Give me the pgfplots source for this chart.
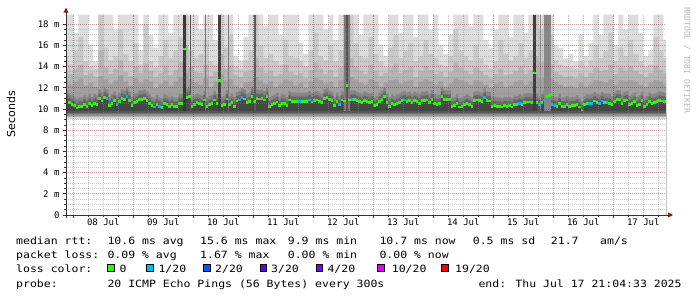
\documentclass[border=0pt]{standalone}
\usepackage{fontspec}
\usepackage{pgfplots}
\usepackage{pgfplotstable}
\pgfplotsset{compat=1.18}
\usetikzlibrary{arrows.meta}
\newfontfamily\monof{DejaVu Sans Mono}
\newfontfamily\lgmono[FakeStretch=1.15]{DejaVu Sans Mono}
\newfontfamily\dvsans{DejaVu Sans}
\newcommand{\axfont}{\fontsize{9bp}{10bp}\selectfont\monof}
\newcommand{\lgfont}{\fontsize{10bp}{11bp}\selectfont\lgmono}
\definecolor{lc0}{HTML}{26FF00}
\definecolor{lc1}{HTML}{00B8FF}
\definecolor{lc2}{HTML}{0059FF}
\definecolor{lc3}{HTML}{5E00FF}
\definecolor{lc4}{HTML}{7E00FF}
\definecolor{lc10}{HTML}{DD00FF}
\definecolor{lc19}{HTML}{FF0000}
\definecolor{sA}{HTML}{DDDDDD}
\definecolor{sB}{HTML}{C9C9C9}
\definecolor{sB2}{HTML}{B5B5B5}
\definecolor{sC}{HTML}{A0A0A0}
\definecolor{sD}{HTML}{858585}
\definecolor{sD2}{HTML}{666666}
\definecolor{sE}{HTML}{474747}
\definecolor{mgrid}{HTML}{821E1E}
\definecolor{ggrid}{HTML}{8C8C8C}
\definecolor{arrowred}{HTML}{8B1A1A}
\definecolor{axiscol}{HTML}{333333}

% smoke bands: column start hour, tops of the grey bands (light to darker)
\pgfplotstableread[row sep=\\]{
h T T2 T25 T3\\
20 18.9 15.0 13.6 12.7\\ 22 18.9 14.2 13.3 12.3\\ 24 17.2 15.5 13.8 12.6\\ 26 18.9 16.8 14.2 12.9\\
28 18.9 14.5 13.2 12.2\\ 30 16.0 14.0 13.4 12.5\\ 32 14.5 13.8 13.0 12.1\\ 34 18.9 18.9 15.5 13.1\\
36 18.9 15.8 13.9 12.8\\ 38 18.9 14.6 13.3 12.4\\ 40 17.5 15.0 13.8 12.7\\ 42 18.9 17.5 14.6 13.2\\
44 18.9 15.2 13.5 12.6\\ 46 18.9 14.5 13.1 12.2\\ 48 18.9 16.2 14.0 12.9\\ 50 15.5 14.2 13.4 12.5\\
52 18.9 18.0 14.3 12.8\\ 54 17.0 14.5 13.6 12.6\\ 56 15.8 13.9 13.0 12.0\\ 58 18.9 15.0 13.4 12.4\\
60 18.9 16.5 14.1 12.7\\ 62 17.2 14.8 13.2 12.2\\ 64 18.9 15.5 13.7 12.6\\ 66 18.9 16.8 14.4 13.0\\
68 18.9 18.9 16.0 13.4\\ 70 18.9 15.5 14.0 12.8\\ 72 18.9 14.8 13.5 12.5\\ 74 17.5 15.2 13.4 12.3\\
76 18.9 16.5 14.2 12.9\\ 78 18.9 14.5 13.1 12.1\\ 80 16.5 14.2 13.5 12.6\\ 82 18.9 18.9 15.2 13.3\\
84 18.9 15.8 13.8 12.7\\ 86 18.9 17.0 14.1 12.8\\ 88 15.0 14.0 13.2 12.2\\ 90 14.6 13.8 13.0 12.0\\
92 16.8 14.6 13.5 12.5\\ 94 18.9 15.5 13.7 12.6\\ 96 18.9 18.9 14.8 13.0\\ 98 18.9 16.0 13.9 12.7\\
100 17.8 14.8 13.4 12.4\\ 102 18.9 15.2 13.6 12.6\\ 104 18.9 14.5 13.1 12.1\\ 106 17.0 14.2 13.3 12.4\\
108 18.9 16.5 14.2 12.8\\ 110 18.9 15.0 13.5 12.6\\ 112 18.9 14.8 13.2 12.2\\ 114 16.2 14.5 13.4 12.5\\
116 15.2 14.0 12.9 12.0\\ 118 18.9 15.5 13.7 12.6\\ 120 18.9 17.2 14.4 12.9\\ 122 18.9 15.0 13.8 12.7\\
124 17.5 14.6 13.3 12.4\\ 126 18.9 16.0 13.7 12.6\\ 128 16.5 14.5 13.0 12.1\\ 130 18.9 15.5 13.9 12.7\\
132 18.9 18.9 15.5 13.2\\ 134 18.9 18.9 14.8 13.0\\ 136 18.9 16.2 14.0 12.8\\ 138 17.0 15.0 13.6 12.5\\
140 18.9 14.8 13.3 12.3\\ 142 18.9 16.8 14.2 12.8\\ 144 18.9 15.2 13.6 12.6\\ 146 16.0 14.5 13.1 12.1\\
148 15.0 14.0 13.4 12.5\\ 150 18.9 15.8 13.9 12.7\\ 152 18.9 17.0 14.3 12.8\\ 154 17.2 14.8 13.4 12.4\\
156 18.9 15.5 13.7 12.6\\ 158 18.9 16.2 14.0 12.7\\ 160 16.8 14.5 13.0 12.1\\ 162 18.9 15.0 13.6 12.6\\
164 18.9 16.5 14.1 12.8\\ 166 17.5 15.2 13.7 12.6\\ 168 18.9 14.8 13.3 12.3\\ 170 16.0 14.2 13.5 12.6\\
172 15.2 14.0 13.0 12.1\\ 174 17.0 15.0 13.5 12.4\\ 176 18.9 17.5 14.4 12.9\\ 178 18.9 15.5 13.9 12.7\\
180 18.9 15.0 13.6 12.6\\ 182 17.8 14.6 13.3 12.3\\ 184 18.9 16.0 13.9 12.7\\ 186 18.9 14.8 13.6 12.6\\
188 16.5 14.2 13.2 12.3\\ 190 15.8 13.8 12.9 12.0\\ 192 17.5 14.5 13.3 12.4\\ 194 18.9 16.5 13.8 12.6\\
196 18.9 15.2 13.2 12.1\\ 198 16.8 14.6 13.3 12.3\\ 200 18.9 15.0 13.6 12.6\\ 202 18.9 16.2 14.0 12.7\\
204 17.2 14.8 13.3 12.3\\ 206 18.9 15.5 13.7 12.6\\ 208 18.9 18.9 15.0 13.3\\ 210 18.9 17.5 14.4 12.9\\
212 18.9 18.9 14.6 13.0\\ 214 18.9 17.0 14.2 12.8\\ 216 16.0 14.6 13.5 12.6\\ 218 15.8 14.2 13.2 12.3\\
220 14.8 14.0 13.0 12.1\\ 222 15.2 13.9 13.1 12.2\\ 224 14.5 13.8 12.9 12.0\\ 226 17.0 14.5 13.4 12.5\\
228 15.0 14.0 13.0 12.1\\ 230 16.2 14.6 13.4 12.4\\ 232 18.9 16.0 13.9 12.7\\ 234 17.0 14.8 13.6 12.6\\
236 18.9 15.5 13.7 12.5\\ 238 18.9 17.2 14.2 12.8\\ 240 16.0 14.5 13.3 12.3\\ 242 18.9 15.8 13.9 12.7\\
244 17.5 15.0 13.6 12.6\\ 246 18.9 16.5 14.0 12.7\\ 248 18.9 15.2 13.6 12.6\\ 250 17.2 14.5 13.3 12.3\\
252 15.0 14.0 13.0 12.1\\ 254 15.5 14.2 13.4 12.5\\ 256 18.9 16.8 14.1 12.7\\ 258 18.9 15.5 13.7 12.6\\
260 16.5 14.8 13.4 12.4\\ 262 16.5 14.8 13.4 12.4\\
}\smoke

% median rtt (ms), hourly, x = start of the hour since 07 Jul 00:00
\pgfplotstableread[row sep=\\]{
x y\\
20 10.85\\ 21 10.85\\ 22 10.6\\ 23 10.45\\ 24 10.3\\ 25 10.1\\ 26 10.25\\ 27 10.25\\
28 10.45\\ 29 10.25\\ 30 10.55\\ 31 10.3\\ 32 10.55\\ 33 10.45\\ 34 11.0\\ 35 10.75\\
36 11.1\\ 37 11.0\\ 38 10.3\\ 39 10.55\\ 40 10.8\\ 41 10.45\\ 42 10.7\\ 43 11.0\\
44 10.9\\ 45 11.15\\ 46 10.8\\ 47 10.3\\ 48 10.6\\ 49 10.7\\ 50 10.9\\ 51 10.9\\
52 11.0\\ 53 10.8\\ 54 10.55\\ 55 10.3\\ 56 10.2\\ 57 10.45\\ 58 10.25\\ 59 10.15\\
60 10.55\\ 61 10.45\\ 62 10.25\\ 63 10.4\\ 64 10.25\\ 65 10.25\\ 66 10.55\\ 67 10.55\\
68 15.65\\ 69 11.1\\ 70 11.2\\ 71 10.25\\ 72 10.45\\ 73 10.6\\ 74 10.5\\ 75 10.4\\
76 10.85\\ 77 10.25\\ 78 10.4\\ 79 10.5\\ 80 10.85\\ 81 10.55\\ 82 12.7\\ 83 10.3\\
84 10.45\\ 85 10.95\\ 86 10.4\\ 87 10.6\\ 88 10.25\\ 89 10.75\\ 90 10.85\\ 91 11.1\\
92 10.95\\ 93 10.6\\ 94 10.7\\ 95 11.2\\ 96 10.7\\ 97 11.0\\ 98 10.95\\ 99 11.0\\
100 10.85\\ 101 11.15\\ 102 10.25\\ 103 10.4\\ 104 10.5\\ 105 10.65\\ 106 10.3\\ 107 10.55\\
108 10.5\\ 109 10.3\\ 110 10.85\\ 111 10.7\\ 112 10.7\\ 113 10.7\\ 114 10.7\\ 115 10.7\\
116 10.7\\ 117 10.7\\ 118 10.85\\ 119 10.65\\ 120 10.8\\ 121 10.85\\ 122 10.7\\ 123 10.6\\
124 11.0\\ 125 11.1\\ 126 10.9\\ 127 10.8\\ 128 10.3\\ 129 10.7\\ 130 10.4\\ 131 10.85\\
132 10.75\\ 133 12.25\\ 134 10.85\\ 135 10.9\\ 136 10.9\\ 137 10.8\\ 138 10.7\\ 139 10.6\\
140 10.8\\ 141 10.7\\ 142 10.6\\ 143 10.7\\ 144 10.3\\ 145 10.4\\ 146 10.7\\ 147 10.9\\
148 11.15\\ 149 10.6\\ 150 10.25\\ 151 10.5\\ 152 10.4\\ 153 10.5\\ 154 10.6\\ 155 10.8\\
156 10.85\\ 157 10.7\\ 158 10.8\\ 159 10.6\\ 160 10.8\\ 161 10.7\\ 162 10.55\\ 163 10.8\\
164 10.8\\ 165 10.85\\ 166 10.6\\ 167 10.9\\ 168 10.55\\ 169 10.45\\ 170 10.5\\ 171 11.2\\
172 10.9\\ 173 10.9\\ 174 10.9\\ 175 10.25\\ 176 10.3\\ 177 10.55\\ 178 10.2\\ 179 10.25\\
180 10.4\\ 181 10.55\\ 182 10.4\\ 183 10.25\\ 184 10.8\\ 185 10.85\\ 186 10.8\\ 187 10.7\\
188 11.1\\ 189 10.8\\ 190 10.75\\ 191 10.25\\ 192 10.3\\ 193 10.25\\ 194 10.25\\ 195 10.2\\
196 10.3\\ 197 10.25\\ 198 10.3\\ 199 10.2\\ 200 10.45\\ 201 10.4\\ 202 10.55\\ 203 10.45\\
204 10.6\\ 205 10.65\\ 206 10.65\\ 207 10.6\\ 208 13.4\\ 209 10.6\\ 210 10.4\\ 211 10.6\\
212 10.85\\ 213 11.2\\ 214 11.3\\ 215 10.4\\ 216 10.3\\ 217 10.25\\ 218 10.55\\ 219 10.25\\
220 10.25\\ 221 10.4\\ 222 10.25\\ 223 10.3\\ 224 10.3\\ 225 10.45\\ 226 10.2\\ 227 9.9\\
228 10.4\\ 229 10.55\\ 230 10.5\\ 231 10.55\\ 232 10.75\\ 233 10.6\\ 234 10.5\\ 235 10.75\\
236 10.6\\ 237 10.6\\ 238 10.55\\ 239 10.4\\ 240 10.7\\ 241 10.9\\ 242 10.9\\ 243 10.5\\
244 10.8\\ 245 10.85\\ 246 10.4\\ 247 10.5\\ 248 10.7\\ 249 10.3\\ 250 10.45\\ 251 10.8\\
252 10.25\\ 253 10.4\\ 254 10.7\\ 255 10.55\\ 256 10.6\\ 257 10.7\\ 258 10.8\\ 259 10.75\\
260 10.7\\ 261 10.7\\
}\med

% hours with 1/20 loss
\pgfplotstableread[row sep=\\]{
x y\\
37 11.0\\ 41 10.45\\ 45 11.15\\ 56 10.2\\ 58 10.25\\ 90 10.85\\ 91 11.1\\ 114 10.7\\
118 10.85\\ 130 10.4\\ 135 10.9\\ 156 10.85\\ 188 11.1\\ 202 10.55\\ 210 10.4\\ 212 10.85\\
215 10.4\\ 216 10.3\\ 230 10.5\\ 231 10.55\\ 234 10.5\\ 235 10.75\\ 237 10.6\\
}\loss

\begin{document}
\begin{tikzpicture}
\fill[white] (-66bp,-82bp) rectangle (631bp,215bp);
\begin{axis}[
  at={(0,0)}, anchor=south west,
  scale only axis, width=600bp, height=200.3bp,
  xmin=21.07, xmax=261.07, ymin=0, ymax=18.9,
  set layers=axis on top,
  axis x line=bottom, axis y line=left,
  axis line style={draw=axiscol, line width=0.9bp},
  x axis line style={-{Triangle[length=5bp,width=5bp,color=arrowred]}, shorten >=-7bp, shorten <=-3bp},
  y axis line style={-{Triangle[length=5bp,width=5bp,color=arrowred]}, shorten >=-7bp, shorten <=-3bp},
  xtick={24,48,...,240}, xticklabels={,,,,,,,,,},
  minor xtick={30,36,42,54,60,66,78,84,90,102,108,114,126,132,138,150,156,162,174,180,186,198,204,210,222,228,234,246,252,258},
  extra x ticks={36,60,84,108,132,156,180,204,228,252},
  extra x tick labels={08 Jul,09 Jul,10 Jul,11 Jul,12 Jul,13 Jul,14 Jul,15 Jul,16 Jul,17 Jul},
  extra x tick style={major tick length=0pt, grid=none},
  ytick={0,2,...,18},
  yticklabels={0,2 m,4 m,6 m,8 m,10 m,12 m,14 m,16 m,18 m},
  minor y tick num=3,
  grid=both,
  major grid style={draw=mgrid, draw opacity=0.45, line width=1bp, dash pattern=on 1bp off 1bp},
  minor grid style={draw=ggrid, draw opacity=0.45, line width=1bp, dash pattern=on 1bp off 1bp},
  tick align=outside, major tick length=3bp, minor tick length=2bp,
  tick style={draw=axiscol, line width=0.8bp},
  tick label style={font=\axfont, text=black},
]
% smoke
\addplot[const plot, fill=sA, draw=none] table[x=h,y=T]{\smoke} \closedcycle;
\addplot[const plot, fill=sB, draw=none] table[x=h,y=T2]{\smoke} \closedcycle;
\addplot[const plot, fill=sB2, draw=none] table[x=h,y=T25]{\smoke} \closedcycle;
\addplot[const plot, fill=sC, draw=none] table[x=h,y=T3]{\smoke} \closedcycle;
\addplot[const plot, fill=sD, draw=none, yshift=9bp] table[x=x,y=y]{\med} \closedcycle;
\addplot[const plot, fill=sD2, draw=none, yshift=5bp] table[x=x,y=y]{\med} \closedcycle;
\addplot[const plot, fill=sE, draw=none, yshift=1.5bp] table[x=x,y=y]{\med} \closedcycle;
% dark spike columns
\addplot[fill=black!78, draw=none] coordinates {(67.9,18.9) (69.1,18.9)} \closedcycle;
\addplot[fill=black!67, draw=none] coordinates {(70.5,18.9) (71.0,18.9)} \closedcycle;
\addplot[fill=black!52, draw=none] coordinates {(76.5,18.9) (77.0,18.9)} \closedcycle;
\addplot[fill=black!75, draw=none] coordinates {(82.0,18.9) (83.0,18.9)} \closedcycle;
\addplot[fill=black!52, draw=none] coordinates {(85.7,18.9) (86.2,18.9)} \closedcycle;
\addplot[fill=black!64, draw=none] coordinates {(96.3,18.9) (96.9,18.9)} \closedcycle;
\addplot[fill=black!52, draw=none] coordinates {(132.4,18.9) (134.6,18.9)} \closedcycle;
\addplot[fill=black!67, draw=none] coordinates {(133.0,18.9) (134.0,18.9)} \closedcycle;
\addplot[fill=black!76, draw=none] coordinates {(208.0,18.9) (209.1,18.9)} \closedcycle;
\addplot[fill=black!46, draw=none] coordinates {(210.5,18.9) (211.0,18.9)} \closedcycle;
\addplot[fill=black!47, draw=none] coordinates {(212.3,18.9) (215.0,18.9)} \closedcycle;
% lower edge of the smoke
\addplot[fill=black!66, draw=none] coordinates {(0,9.8) (300,9.8)} \closedcycle;
\addplot[fill=black!56, draw=none] coordinates {(0,9.65) (300,9.65)} \closedcycle;
\addplot[fill=black!43, draw=none] coordinates {(0,9.5) (300,9.5)} \closedcycle;
\addplot[fill=black!30, draw=none] coordinates {(0,9.35) (300,9.35)} \closedcycle;
\addplot[fill=black!17, draw=none] coordinates {(0,9.2) (300,9.2)} \closedcycle;
\addplot[fill=white, draw=none] coordinates {(0,9.05) (300,9.05)} \closedcycle;
% median with loss colour
\addplot[on layer=axis foreground, only marks, mark=-, mark size=1.25bp, mark options={xshift=1.25bp, line width=2.7bp, draw=lc0}, restrict x to domain=21:260.5] table[x=x,y=y]{\med};
\addplot[on layer=axis foreground, only marks, mark=-, mark size=1.25bp, mark options={xshift=1.25bp, line width=2.7bp, draw=lc1}] table[x=x,y=y]{\loss};
\end{axis}
% axis title and watermark
\node[rotate=90, font=\fontsize{11bp}{12bp}\selectfont\dvsans, anchor=center] at (-55bp,101bp) {Seconds};
\node[rotate=-90, font=\fontsize{8bp}{9bp}\selectfont\monof, text=black!28, anchor=center] at (621bp,155bp) {RRDTOOL / TOBI OETIKER};
% legend
\begin{scope}[every node/.style={anchor=base west, inner sep=0pt, font=\lgfont, text=black}]
\node at (-50bp,-29bp) {median rtt:};
\node at (41.3bp,-29bp) {10.6 ms avg};
\node at (134bp,-29bp) {15.6 ms max};
\node at (221.7bp,-29bp) {9.9 ms min};
\node at (313.3bp,-29bp) {10.7 ms now};
\node at (406.7bp,-29bp) {0.5 ms sd};
\node at (484.7bp,-29bp) {21.7};
\node at (534bp,-29bp) {am/s};
\node at (-50bp,-43.4bp) {packet loss:};
\node at (41.3bp,-43.4bp) {0.09 \% avg};
\node at (134bp,-43.4bp) {1.67 \% max};
\node at (221.7bp,-43.4bp) {0.00 \% min};
\node at (313.3bp,-43.4bp) {0.00 \% now};
\node at (-50bp,-57.8bp) {loss color:};
\node at (53.3bp,-57.8bp) {0};
\node at (92.3bp,-57.8bp) {1/20};
\node at (149bp,-57.8bp) {2/20};
\node at (205bp,-57.8bp) {3/20};
\node at (261.3bp,-57.8bp) {4/20};
\node at (325.7bp,-57.8bp) {10/20};
\node at (389bp,-57.8bp) {19/20};
\node at (-50bp,-72.2bp) {probe:};
\node at (41.3bp,-72.2bp) {20 ICMP Echo Pings (56 Bytes) every 300s};
\node at (412.3bp,-72.2bp) {end: Thu Jul 17 21:04:33 2025};
\end{scope}
\foreach \xx/\cc in {41.3/lc0, 80.7/lc1, 137.3/lc2, 194/lc3, 250/lc4, 311.7/lc10, 375.7/lc19}{
  \filldraw[fill=\cc, draw=black, line width=0.8bp] (\xx bp,-56.3bp) rectangle ++(6.6bp,6.6bp);
}
\pgfresetboundingbox
\path[use as bounding box] (-66bp,-82bp) rectangle (631bp,215bp);
\end{tikzpicture}
\end{document}
